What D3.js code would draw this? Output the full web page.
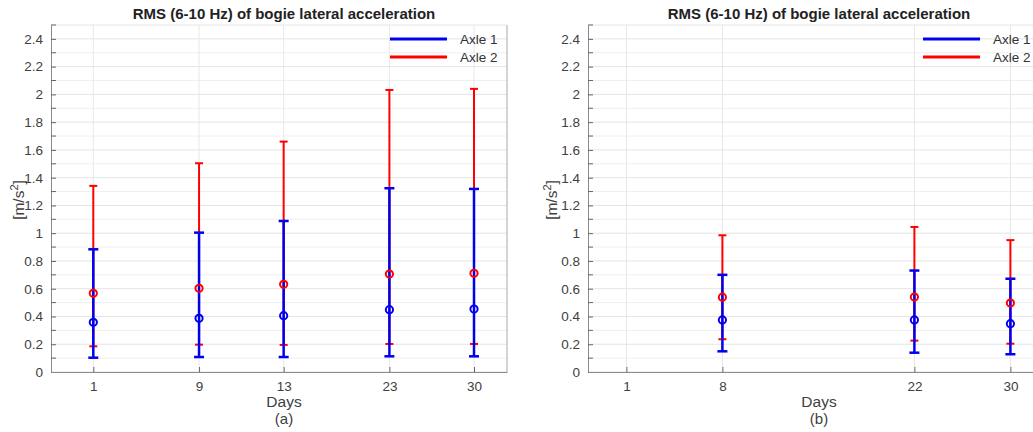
<!DOCTYPE html>
<html>
<head>
<meta charset="utf-8">
<script src="https://cdn.jsdelivr.net/npm/d3@7"></script>
<style>
  body { margin: 0; background: #fff; }
  svg { display: block; font-family: "Liberation Sans", Arial, sans-serif; }
</style>
</head>
<body>
<svg id="chart" width="1033" height="432"></svg>
<script>
// panel (a)
let daysA = ["1", "9", "13", "23", "30"];
let xPosA = [1, 2.25, 3.25, 4.5, 5.5];
let axle1MeanA = [0.358, 0.387, 0.406, 0.449, 0.454];
let axle1LowA = [0.103, 0.108, 0.108, 0.113, 0.113];
let axle1HighA = [0.884, 1.004, 1.088, 1.324, 1.319];
let axle2MeanA = [0.567, 0.603, 0.632, 0.706, 0.711];
let axle2LowA = [0.185, 0.197, 0.195, 0.202, 0.202];
let axle2HighA = [1.341, 1.504, 1.66, 2.032, 2.04];

// panel (b) - no measurement on day 1
let daysB = ["1", "8", "22", "30"];
let xPosB = [1, 2, 4, 5];
let axle1MeanB = [null, 0.375, 0.375, 0.348];
let axle1LowB = [null, 0.149, 0.139, 0.128];
let axle1HighB = [null, 0.70, 0.731, 0.672];
let axle2MeanB = [null, 0.539, 0.54, 0.497];
let axle2LowB = [null, 0.236, 0.226, 0.204];
let axle2HighB = [null, 0.985, 1.045, 0.95];

let yTicks = d3.range(0, 2.41, 0.2);
let seriesNames = ["Axle 1", "Axle 2"];
let seriesColors = ["#0000f0", "#ff0000"];

let svg = d3.select("#chart");

function drawPanel(opt) {
    let x = d3.scaleLinear().domain(opt.xDomain).range([opt.left, opt.right]);
    let y = d3.scaleLinear().domain([0, 2.5]).range([372, 25]);
    let g = svg.append("g");

    // grid: minor every 0.1, major every 0.2
    let minor = d3.range(0.1, 2.5, 0.2);
    g.selectAll(".minor").data(minor).enter().append("line")
        .attr("x1", opt.left).attr("x2", opt.right)
        .attr("y1", d => y(d)).attr("y2", d => y(d))
        .attr("stroke", "#efefef").attr("stroke-width", 1);
    g.selectAll(".major").data(yTicks.concat([2.5])).enter().append("line")
        .attr("x1", opt.left).attr("x2", opt.right)
        .attr("y1", d => y(d)).attr("y2", d => y(d))
        .attr("stroke", "#e4e4e4").attr("stroke-width", 1);
    g.selectAll(".vgrid").data(opt.xPos).enter().append("line")
        .attr("x1", d => x(d)).attr("x2", d => x(d))
        .attr("y1", y(0)).attr("y2", y(2.5))
        .attr("stroke", "#e8e8e8").attr("stroke-width", 1);

    // right border
    g.append("line")
        .attr("x1", opt.right).attr("x2", opt.right)
        .attr("y1", y(0)).attr("y2", y(2.5))
        .attr("stroke", "#a8a8a8");

    // y axis
    let yAxis = d3.axisLeft(y).tickValues(yTicks)
        .tickFormat(d => d3.format("~g")(+d.toFixed(1)))
        .tickSizeInner(-5).tickSizeOuter(0).tickPadding(8);
    let ya = g.append("g").attr("transform", "translate(" + opt.left + ",0)").call(yAxis);
    ya.select(".domain").attr("stroke", "#8a8a8a");
    ya.selectAll(".tick line").attr("stroke", "#666");
    ya.selectAll("text").attr("font-size", 13.5).attr("fill", "#404040");
    ya.selectAll(".mtick").data(minor.concat([2.5])).enter().append("line")
        .attr("x1", 0).attr("x2", 5)
        .attr("y1", d => y(d)).attr("y2", d => y(d))
        .attr("stroke", "#666");

    // x axis
    let xAxis = d3.axisBottom(x).tickValues(opt.xPos)
        .tickFormat((d, i) => opt.days[i])
        .tickSizeInner(-5).tickSizeOuter(0).tickPadding(9);
    let xa = g.append("g").attr("transform", "translate(0," + y(0) + ")").call(xAxis);
    xa.select(".domain").attr("stroke", "#8a8a8a");
    xa.selectAll(".tick line").attr("stroke", "#666");
    xa.selectAll("text").attr("font-size", 13.5).attr("fill", "#404040");

    // error bars: Axle 2 behind, Axle 1 in front
    let series = [
        { mean: opt.a2m, low: opt.a2l, high: opt.a2h, color: seriesColors[1], w: 2, cap: 4 },
        { mean: opt.a1m, low: opt.a1l, high: opt.a1h, color: seriesColors[0], w: 2.5, cap: 5 }
    ];
    series.forEach(s => {
        let pts = opt.xPos.map((p, i) => ({ p: p, m: s.mean[i], lo: s.low[i], hi: s.high[i] }))
            .filter(d => d.m !== null);
        let eg = g.append("g").attr("stroke", s.color).attr("stroke-width", s.w);
        eg.selectAll(".bar").data(pts).enter().append("line")
            .attr("x1", d => x(d.p)).attr("x2", d => x(d.p))
            .attr("y1", d => y(d.lo)).attr("y2", d => y(d.hi));
        eg.selectAll(".capHi").data(pts).enter().append("line")
            .attr("x1", d => x(d.p) - s.cap).attr("x2", d => x(d.p) + s.cap)
            .attr("y1", d => y(d.hi)).attr("y2", d => y(d.hi));
        eg.selectAll(".capLo").data(pts).enter().append("line")
            .attr("x1", d => x(d.p) - s.cap).attr("x2", d => x(d.p) + s.cap)
            .attr("y1", d => y(d.lo)).attr("y2", d => y(d.lo));
        s.pts = pts;
    });
    series.forEach(s => {
        g.append("g").selectAll("circle").data(s.pts).enter().append("circle")
            .attr("cx", d => x(d.p)).attr("cy", d => y(d.m))
            .attr("r", 3.6).attr("fill", "none")
            .attr("stroke", s.color).attr("stroke-width", 2);
    });

    // titles and labels
    svg.append("text").attr("x", opt.titleX).attr("y", 19)
        .attr("text-anchor", "middle").attr("font-size", 15).attr("font-weight", "bold")
        .attr("fill", "#222").text("RMS (6-10 Hz) of bogie lateral acceleration");
    svg.append("text").attr("x", opt.titleX).attr("y", 407)
        .attr("text-anchor", "middle").attr("font-size", 15.5).attr("fill", "#404040").text("Days");
    svg.append("text").attr("x", opt.titleX).attr("y", 424)
        .attr("text-anchor", "middle").attr("font-size", 15).attr("fill", "#404040").text(opt.tag);
    let yl = svg.append("text")
        .attr("transform", "translate(" + opt.yLabelX + ",200) rotate(-90)")
        .attr("text-anchor", "middle").attr("font-size", 15.5).attr("fill", "#404040");
    yl.append("tspan").text("[m/s");
    yl.append("tspan").attr("dy", -6).attr("font-size", 11).text("2");
    yl.append("tspan").attr("dy", 6).text("]");

    // legend (no box)
    let lg = svg.append("g").attr("transform", "translate(" + opt.legendX + ",39)");
    seriesNames.forEach((n, i) => {
        lg.append("line").attr("x1", 0).attr("x2", 57)
            .attr("y1", i * 18).attr("y2", i * 18)
            .attr("stroke", seriesColors[i]).attr("stroke-width", 3);
        lg.append("text").attr("x", 70).attr("y", i * 18 + 5)
            .attr("font-size", 13.5).attr("fill", "#333").text(n);
    });
}

drawPanel({
    left: 51, right: 507, xDomain: [0.5, 5.89], xPos: xPosA, days: daysA,
    a1m: axle1MeanA, a1l: axle1LowA, a1h: axle1HighA,
    a2m: axle2MeanA, a2l: axle2LowA, a2h: axle2HighA,
    titleX: 284, yLabelX: 24, legendX: 390, tag: "(a)"
});

drawPanel({
    left: 588, right: 1044, xDomain: [0.6, 5.35], xPos: xPosB, days: daysB,
    a1m: axle1MeanB, a1l: axle1LowB, a1h: axle1HighB,
    a2m: axle2MeanB, a2l: axle2LowB, a2h: axle2HighB,
    titleX: 819, yLabelX: 557, legendX: 923, tag: "(b)"
});
</script>
</body>
</html>
